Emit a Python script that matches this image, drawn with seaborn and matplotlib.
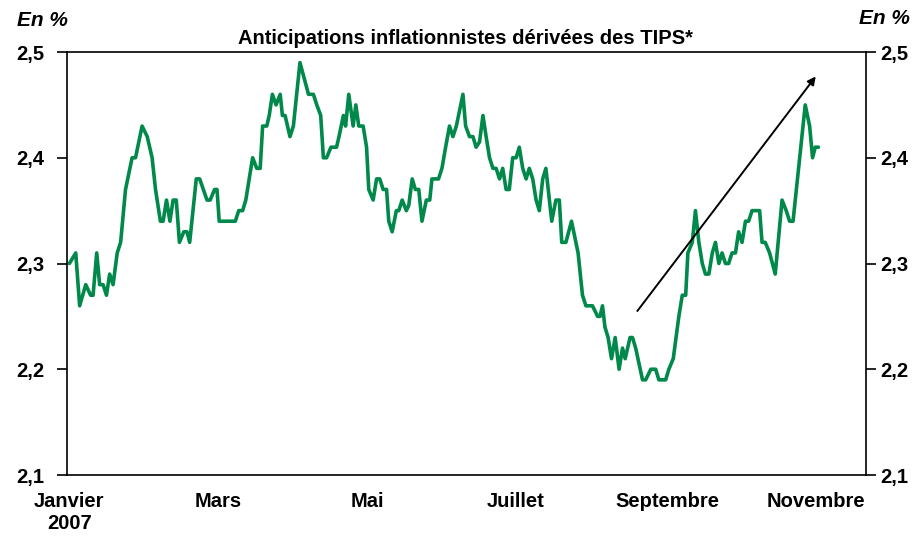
import pandas as pd
import seaborn as sns
import matplotlib.pyplot as plt
from matplotlib.ticker import FuncFormatter
from matplotlib.transforms import ScaledTranslation

# jours depuis le 31/12/2006 et anticipations d'inflation (en %)
jours = [1.0, 3.6, 5.2, 7.7, 9.7, 10.7, 12.2, 13.4, 14.8, 16.2, 17.5, 18.9, 20.6, 22.0,
         24.0, 26.7, 28.1, 30.8, 32.9, 34.9, 36.3, 38.3, 39.4, 40.8, 42.2, 43.5, 44.8,
         46.1, 47.9, 49.2, 50.3, 53.0, 54.4, 57.4, 58.7, 60.5, 61.5, 62.4, 69.0, 70.4,
         72.0, 73.3, 76.1, 77.8, 79.2, 80.2, 81.9, 82.9, 84.2, 85.7, 87.4, 88.3, 89.4,
         91.4, 92.8, 95.5, 99.0, 101.0, 102.4, 104.0, 105.1, 106.4, 108.2, 110.5, 111.5,
         113.3, 114.2, 115.5, 117.3, 118.4, 119.6, 121.4, 122.8, 123.7, 125.5, 126.9,
         128.2, 129.6, 131.0, 131.9, 133.3, 135.0, 136.0, 137.4, 139.1, 140.1, 141.5,
         142.8, 144.2, 145.5, 147.3, 148.7, 149.6, 152.3, 153.7, 155.2, 156.8, 158.2,
         159.6, 162.3, 163.4, 165.0, 166.4, 167.7, 169.1, 170.5, 171.8, 173.2, 174.6,
         175.9, 177.3, 178.6, 180.0, 181.3, 182.7, 184.1, 185.4, 186.8, 188.2, 189.5,
         190.9, 192.3, 193.6, 195.0, 196.3, 198.7, 200.4, 201.8, 202.8, 204.5, 206.8,
         209.5, 211.3, 212.7, 215.4, 217.5, 218.5, 219.5, 220.5, 221.8, 223.2, 224.7,
         226.3, 227.7, 228.8, 230.8, 231.8, 233.1, 235.9, 237.2, 239.3, 241.3, 242.6,
         245.4, 246.7, 248.5, 250.8, 252.2, 253.6, 254.5, 256.3, 257.6, 259.0, 260.4,
         261.7, 263.1, 264.5, 265.8, 267.2, 268.5, 269.9, 271.2, 272.6, 274.0, 275.3,
         276.7, 278.1, 279.4, 280.8, 283.9, 284.9, 286.2, 288.0, 290.3, 293.1, 294.8,
         296.2, 297.6, 300.8, 302.6, 304.4, 305.6, 306.7, 308.0]
tips = [2.30, 2.31, 2.26, 2.28, 2.27, 2.27, 2.31, 2.28, 2.28, 2.27, 2.29, 2.28, 2.31, 2.32,
        2.37, 2.40, 2.40, 2.43, 2.42, 2.40, 2.37, 2.34, 2.34, 2.36, 2.34, 2.36, 2.36,
        2.32, 2.33, 2.33, 2.32, 2.38, 2.38, 2.36, 2.36, 2.37, 2.37, 2.34, 2.34, 2.35,
        2.35, 2.36, 2.40, 2.39, 2.39, 2.43, 2.43, 2.44, 2.46, 2.45, 2.46, 2.44, 2.44,
        2.42, 2.43, 2.49, 2.46, 2.46, 2.45, 2.44, 2.40, 2.40, 2.41, 2.41, 2.42,
        2.44, 2.43, 2.46, 2.43, 2.45, 2.43, 2.43, 2.41, 2.37, 2.36, 2.38,
        2.38, 2.37, 2.37, 2.34, 2.33, 2.35, 2.35, 2.36, 2.35, 2.355, 2.38,
        2.37, 2.37, 2.34, 2.36, 2.36, 2.38, 2.38, 2.39, 2.41, 2.43, 2.42,
        2.43, 2.46, 2.43, 2.42, 2.42, 2.41, 2.415, 2.44, 2.42, 2.40, 2.39,
        2.39, 2.38, 2.39, 2.37, 2.37, 2.40, 2.40, 2.41, 2.39, 2.38, 2.39,
        2.38, 2.36, 2.35, 2.38, 2.39, 2.34, 2.36, 2.36, 2.32, 2.32, 2.34,
        2.31, 2.27, 2.26, 2.26, 2.25, 2.25, 2.26, 2.24, 2.23, 2.21, 2.23,
        2.20, 2.22, 2.21, 2.23, 2.23, 2.22, 2.19, 2.19, 2.20, 2.20, 2.19,
        2.19, 2.20, 2.21, 2.25, 2.27, 2.27, 2.31, 2.32, 2.35, 2.32, 2.30,
        2.29, 2.29, 2.31, 2.32, 2.30, 2.31, 2.30, 2.30, 2.31, 2.31, 2.33,
        2.32, 2.34, 2.34, 2.35, 2.35, 2.32, 2.32, 2.31, 2.29, 2.36, 2.35,
        2.34, 2.34, 2.41, 2.45, 2.43, 2.40, 2.41, 2.41]

mois = ["2007-01-01", "2007-03-01", "2007-05-01", "2007-07-01", "2007-09-01", "2007-11-01"]
mois_labels = ["Janvier\n2007", "Mars", "Mai", "Juillet", "Septembre", "Novembre"]

# fleche de tendance (debut, fin)
fleche_jours = [233.1, 307.6]
fleche_vals = [2.253, 2.479]

origine = pd.Timestamp("2006-12-31")
df = pd.DataFrame({"date": origine + pd.to_timedelta(jours, unit="D"), "tips": tips})

sns.set_style("ticks")
plt.rcParams["font.family"] = ["Liberation Sans", "DejaVu Sans"]
plt.rcParams["font.weight"] = "bold"
plt.rcParams["text.color"] = "black"
plt.rcParams["xtick.color"] = "black"
plt.rcParams["ytick.color"] = "black"

fig = plt.figure(figsize=(9.16, 5.38), dpi=100)
ax = fig.add_axes([0.0731, 0.1171, 0.8723, 0.7862])

sns.lineplot(data=df, x="date", y="tips", color="#00894A", linewidth=2.6, ax=ax)

ax.set_ylim(2.1, 2.5)
ax.set_yticks([2.1, 2.2, 2.3, 2.4, 2.5])
ax.set_xlim(origine, origine + pd.Timedelta(days=327.5))
ax.set_xticks(pd.to_datetime(mois))
ax.set_xticklabels(mois_labels)
ax.tick_params(axis="x", length=0, pad=12, labelsize=14.5, labelcolor="black")
ax.tick_params(axis="y", direction="out", length=7, width=1.2, labelsize=14.5,
               left=True, right=True, labelleft=True, labelright=True, pad=9,
               labelcolor="black")
ax.yaxis.set_major_formatter(FuncFormatter(lambda v, p: f"{v:.1f}".replace(".", ",")))
for lab in ax.get_xticklabels() + ax.get_yticklabels():
    lab.set_fontweight("bold")
# decalage leger des mois comme sur l'original
for lab in ax.get_xticklabels()[1:]:
    lab.set_transform(lab.get_transform() + ScaledTranslation(0.05, 0, fig.dpi_scale_trans))
# etiquettes de droite plus proches de l'axe
for t in ax.yaxis.get_major_ticks():
    t.label2.set_transform(t.label2.get_transform() + ScaledTranslation(-0.08, 0, fig.dpi_scale_trans))
for s in ax.spines.values():
    s.set_visible(True)
    s.set_linewidth(1.2)
    s.set_color("black")
ax.set_xlabel("")
ax.set_ylabel("")

fx = origine + pd.to_timedelta(fleche_jours, unit="D")
ax.annotate("", xy=(fx[1], fleche_vals[1]), xytext=(fx[0], fleche_vals[0]),
            arrowprops=dict(arrowstyle="-|>", color="black", lw=1.4, mutation_scale=12))

fig.text(0.508, 0.929, "Anticipations inflationnistes dérivées des TIPS*",
         ha="center", va="center", fontsize=14.5, fontweight="bold")
fig.text(0.046, 0.962, "En %", ha="center", va="center", fontsize=15,
         fontweight="bold", style="italic")
fig.text(0.966, 0.965, "En %", ha="center", va="center", fontsize=15,
         fontweight="bold", style="italic")

fig.savefig("out.png", dpi=100)
